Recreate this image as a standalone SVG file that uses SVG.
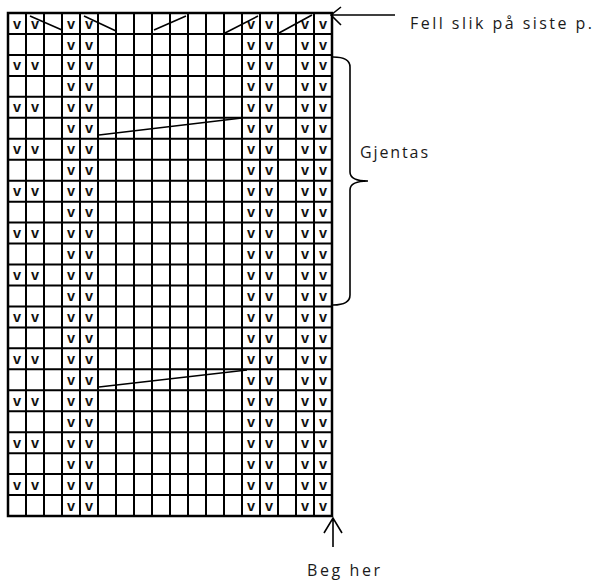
<svg xmlns="http://www.w3.org/2000/svg" width="598" height="581" viewBox="0 0 598 581">
<style>
.g{fill:none;stroke:#000;stroke-width:2}
.o{fill:none;stroke:#000;stroke-width:2.5}
.c{stroke:#000;stroke-width:1.6;fill:none}
.v{font-family:"Liberation Sans",Arial,sans-serif;font-size:14.5px;font-weight:bold;text-anchor:middle;fill:#111}
.t{font-family:"Open Sans","Liberation Sans",sans-serif;font-size:16px;fill:#1a1a1a}
</style>
<rect width="598" height="581" fill="#fff"/>
<g id="grid">
<path class="g" d="M26,13V516M44,13V516M62,13V516M80,13V516M98,13V516M116,13V516M134,13V516M152,13V516M170,13V516M188,13V516M206,13V516M224,13V516M242,13V516M260,13V516M278,13V516M296,13V516M314,13V516"/>
<path class="g" d="M8,33.96H332M8,54.92H332M8,75.88H332M8,96.83H332M8,117.79H332M8,138.75H332M8,159.71H332M8,180.67H332M8,201.63H332M8,222.58H332M8,243.54H332M8,264.5H332M8,285.46H332M8,306.42H332M8,327.38H332M8,348.33H332M8,369.29H332M8,390.25H332M8,411.21H332M8,432.17H332M8,453.13H332M8,474.08H332M8,495.04H332"/>
<rect class="o" x="8" y="13" width="324" height="503"/>
</g>
<g id="stitches">
<text class="v" x="17" y="28.5">v</text><text class="v" x="35" y="28.5">v</text><text class="v" x="71" y="28.5">v</text><text class="v" x="89" y="28.5">v</text><text class="v" x="251" y="28.5">v</text><text class="v" x="269" y="28.5">v</text><text class="v" x="305" y="28.5">v</text><text class="v" x="323" y="28.5">v</text>
<text class="v" x="71" y="49.5">v</text><text class="v" x="89" y="49.5">v</text><text class="v" x="251" y="49.5">v</text><text class="v" x="269" y="49.5">v</text><text class="v" x="305" y="49.5">v</text><text class="v" x="323" y="49.5">v</text>
<text class="v" x="17" y="70.4">v</text><text class="v" x="35" y="70.4">v</text><text class="v" x="71" y="70.4">v</text><text class="v" x="89" y="70.4">v</text><text class="v" x="251" y="70.4">v</text><text class="v" x="269" y="70.4">v</text><text class="v" x="305" y="70.4">v</text><text class="v" x="323" y="70.4">v</text>
<text class="v" x="71" y="91.4">v</text><text class="v" x="89" y="91.4">v</text><text class="v" x="251" y="91.4">v</text><text class="v" x="269" y="91.4">v</text><text class="v" x="305" y="91.4">v</text><text class="v" x="323" y="91.4">v</text>
<text class="v" x="17" y="112.3">v</text><text class="v" x="35" y="112.3">v</text><text class="v" x="71" y="112.3">v</text><text class="v" x="89" y="112.3">v</text><text class="v" x="251" y="112.3">v</text><text class="v" x="269" y="112.3">v</text><text class="v" x="305" y="112.3">v</text><text class="v" x="323" y="112.3">v</text>
<text class="v" x="71" y="133.3">v</text><text class="v" x="89" y="133.3">v</text><text class="v" x="251" y="133.3">v</text><text class="v" x="269" y="133.3">v</text><text class="v" x="305" y="133.3">v</text><text class="v" x="323" y="133.3">v</text>
<text class="v" x="17" y="154.2">v</text><text class="v" x="35" y="154.2">v</text><text class="v" x="71" y="154.2">v</text><text class="v" x="89" y="154.2">v</text><text class="v" x="251" y="154.2">v</text><text class="v" x="269" y="154.2">v</text><text class="v" x="305" y="154.2">v</text><text class="v" x="323" y="154.2">v</text>
<text class="v" x="71" y="175.2">v</text><text class="v" x="89" y="175.2">v</text><text class="v" x="251" y="175.2">v</text><text class="v" x="269" y="175.2">v</text><text class="v" x="305" y="175.2">v</text><text class="v" x="323" y="175.2">v</text>
<text class="v" x="17" y="196.2">v</text><text class="v" x="35" y="196.2">v</text><text class="v" x="71" y="196.2">v</text><text class="v" x="89" y="196.2">v</text><text class="v" x="251" y="196.2">v</text><text class="v" x="269" y="196.2">v</text><text class="v" x="305" y="196.2">v</text><text class="v" x="323" y="196.2">v</text>
<text class="v" x="71" y="217.1">v</text><text class="v" x="89" y="217.1">v</text><text class="v" x="251" y="217.1">v</text><text class="v" x="269" y="217.1">v</text><text class="v" x="305" y="217.1">v</text><text class="v" x="323" y="217.1">v</text>
<text class="v" x="17" y="238.1">v</text><text class="v" x="35" y="238.1">v</text><text class="v" x="71" y="238.1">v</text><text class="v" x="89" y="238.1">v</text><text class="v" x="251" y="238.1">v</text><text class="v" x="269" y="238.1">v</text><text class="v" x="305" y="238.1">v</text><text class="v" x="323" y="238.1">v</text>
<text class="v" x="71" y="259">v</text><text class="v" x="89" y="259">v</text><text class="v" x="251" y="259">v</text><text class="v" x="269" y="259">v</text><text class="v" x="305" y="259">v</text><text class="v" x="323" y="259">v</text>
<text class="v" x="17" y="280">v</text><text class="v" x="35" y="280">v</text><text class="v" x="71" y="280">v</text><text class="v" x="89" y="280">v</text><text class="v" x="251" y="280">v</text><text class="v" x="269" y="280">v</text><text class="v" x="305" y="280">v</text><text class="v" x="323" y="280">v</text>
<text class="v" x="71" y="300.9">v</text><text class="v" x="89" y="300.9">v</text><text class="v" x="251" y="300.9">v</text><text class="v" x="269" y="300.9">v</text><text class="v" x="305" y="300.9">v</text><text class="v" x="323" y="300.9">v</text>
<text class="v" x="17" y="321.9">v</text><text class="v" x="35" y="321.9">v</text><text class="v" x="71" y="321.9">v</text><text class="v" x="89" y="321.9">v</text><text class="v" x="251" y="321.9">v</text><text class="v" x="269" y="321.9">v</text><text class="v" x="305" y="321.9">v</text><text class="v" x="323" y="321.9">v</text>
<text class="v" x="71" y="342.9">v</text><text class="v" x="89" y="342.9">v</text><text class="v" x="251" y="342.9">v</text><text class="v" x="269" y="342.9">v</text><text class="v" x="305" y="342.9">v</text><text class="v" x="323" y="342.9">v</text>
<text class="v" x="17" y="363.8">v</text><text class="v" x="35" y="363.8">v</text><text class="v" x="71" y="363.8">v</text><text class="v" x="89" y="363.8">v</text><text class="v" x="251" y="363.8">v</text><text class="v" x="269" y="363.8">v</text><text class="v" x="305" y="363.8">v</text><text class="v" x="323" y="363.8">v</text>
<text class="v" x="71" y="384.8">v</text><text class="v" x="89" y="384.8">v</text><text class="v" x="251" y="384.8">v</text><text class="v" x="269" y="384.8">v</text><text class="v" x="305" y="384.8">v</text><text class="v" x="323" y="384.8">v</text>
<text class="v" x="17" y="405.7">v</text><text class="v" x="35" y="405.7">v</text><text class="v" x="71" y="405.7">v</text><text class="v" x="89" y="405.7">v</text><text class="v" x="251" y="405.7">v</text><text class="v" x="269" y="405.7">v</text><text class="v" x="305" y="405.7">v</text><text class="v" x="323" y="405.7">v</text>
<text class="v" x="71" y="426.7">v</text><text class="v" x="89" y="426.7">v</text><text class="v" x="251" y="426.7">v</text><text class="v" x="269" y="426.7">v</text><text class="v" x="305" y="426.7">v</text><text class="v" x="323" y="426.7">v</text>
<text class="v" x="17" y="447.7">v</text><text class="v" x="35" y="447.7">v</text><text class="v" x="71" y="447.7">v</text><text class="v" x="89" y="447.7">v</text><text class="v" x="251" y="447.7">v</text><text class="v" x="269" y="447.7">v</text><text class="v" x="305" y="447.7">v</text><text class="v" x="323" y="447.7">v</text>
<text class="v" x="71" y="468.6">v</text><text class="v" x="89" y="468.6">v</text><text class="v" x="251" y="468.6">v</text><text class="v" x="269" y="468.6">v</text><text class="v" x="305" y="468.6">v</text><text class="v" x="323" y="468.6">v</text>
<text class="v" x="17" y="489.6">v</text><text class="v" x="35" y="489.6">v</text><text class="v" x="71" y="489.6">v</text><text class="v" x="89" y="489.6">v</text><text class="v" x="251" y="489.6">v</text><text class="v" x="269" y="489.6">v</text><text class="v" x="305" y="489.6">v</text><text class="v" x="323" y="489.6">v</text>
<text class="v" x="71" y="510.5">v</text><text class="v" x="89" y="510.5">v</text><text class="v" x="251" y="510.5">v</text><text class="v" x="269" y="510.5">v</text><text class="v" x="305" y="510.5">v</text><text class="v" x="323" y="510.5">v</text>
</g>
<g id="connectors">
<path class="c" d="M30,16L62,30M84,16L116,31M154,30L186,16M225,33L258,16M279,33L312,15"/>
<path class="c" d="M99,135L242,118M99,387L247,370"/>
<path class="c" d="M395,15H331M341,7L331,15L341,25"/>
<path class="c" d="M333,547V518M324,533L333,518L342,533"/>
<path class="c" d="M333,57Q350,57 350,67V172Q350,181 368,181Q350,181 350,190V295Q350,305 333,305"/>
</g>
<g id="labels">
<text class="t" x="410" y="29" textLength="182">Fell slik på siste p.</text>
<text class="t" x="360" y="158" textLength="68">Gjentas</text>
<text class="t" x="307" y="576" textLength="73">Beg her</text>
</g>
</svg>
